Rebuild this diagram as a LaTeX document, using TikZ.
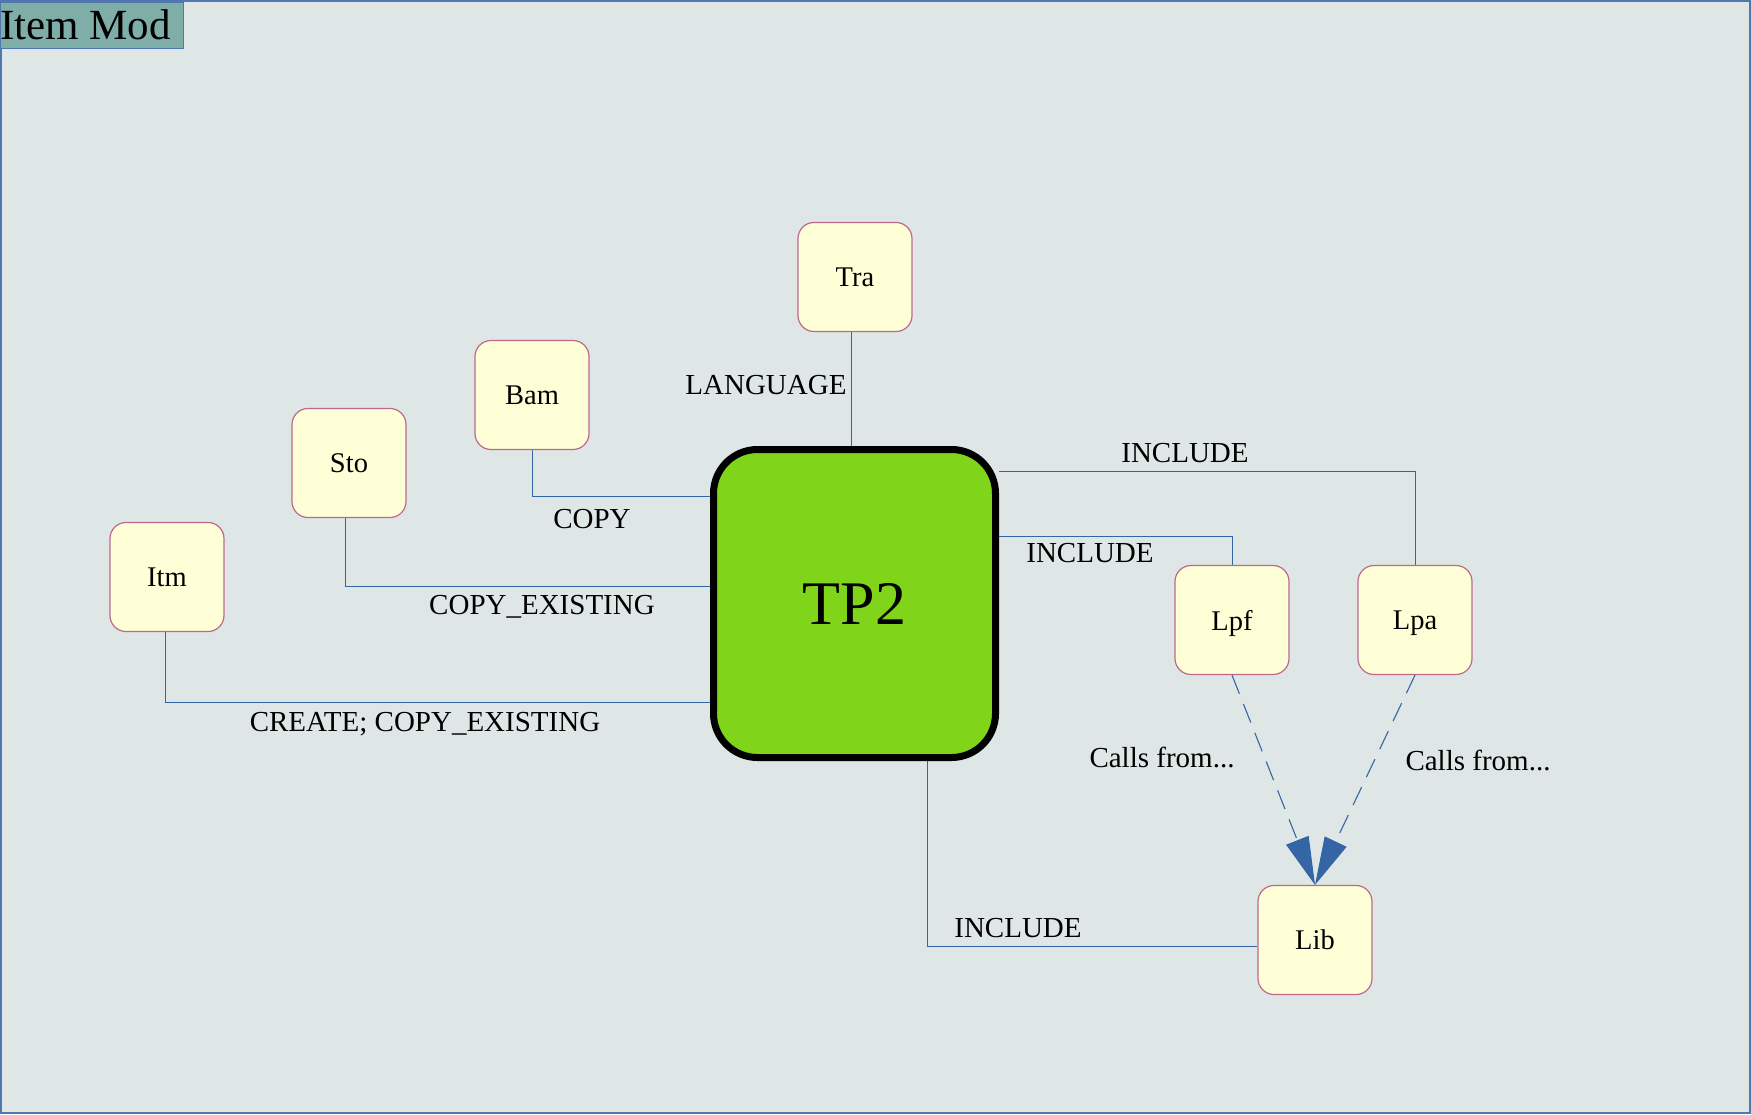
\documentclass[tikz,border=0pt]{standalone}
\usepackage{fontspec}
\setmainfont{Liberation Serif}
\usetikzlibrary{arrows.meta,backgrounds}
\definecolor{bgc}{RGB}{223,231,230}
\definecolor{titlec}{RGB}{127,173,168}
\definecolor{linec}{RGB}{52,101,164}
\definecolor{framec}{RGB}{80,120,175}
\definecolor{nodefill}{RGB}{255,255,215}
\definecolor{nodeborder}{RGB}{190,105,140}
\definecolor{tpgreen}{RGB}{128,212,26}
\tikzset{
  box/.style={draw=nodeborder,fill=nodefill,line width=1.2pt,rounded corners=16pt,
    minimum width=114pt,minimum height=109pt,inner sep=0pt,text depth=0pt,
    font=\fontsize{28.5}{32}\selectfont},
  conn/.style={draw=linec,line width=1pt},
  calls/.style={draw=linec,line width=1.1pt,dash pattern=on 20pt off 11pt,
    -{Triangle[length=48pt,width=24pt]}},
  lbl/.style={font=\fontsize{29}{32}\selectfont,inner sep=0pt,text depth=0pt}
}
\begin{document}
\begin{tikzpicture}[x=1pt,y=-1pt]
\useasboundingbox (0,0) rectangle (1751,1114);
% nodes
\node[draw=black,fill=tpgreen,line width=7pt,rounded corners=44pt,minimum width=282pt,
  minimum height=308pt,inner sep=0pt,font=\fontsize{62}{70}\selectfont] (tp2) at (854.5,603.5) {TP2};
\node[box] (tra) at (855,277) {Tra};
\node[box] (bam) at (532,395) {Bam};
\node[box] (sto) at (349,463) {Sto};
\node[box] (itm) at (167,577) {Itm};
\node[box] (lpf) at (1232,620) {Lpf};
\node[box] (lpa) at (1415,620) {Lpa};
\node[box] (lib) at (1315,940) {Lib};
\node[draw=framec,fill=titlec,line width=1pt,anchor=north west,minimum width=183pt,
  minimum height=46pt,inner sep=0pt] (title) at (0,2) {};
\node[anchor=west,inner sep=0pt,font=\fontsize{43}{46}\selectfont] (titletext) at (0,25) {Item Mod};
% labels
\node[lbl] (l1) at (766,385) {LANGUAGE};
\node[lbl] (l2) at (592,519) {COPY};
\node[lbl] (l3) at (542,605) {COPY\_EXISTING};
\node[lbl] (l4) at (425,722) {CREATE; COPY\_EXISTING};
\node[lbl] (l5) at (1185,453) {INCLUDE};
\node[lbl] (l6) at (1090,553) {INCLUDE};
\node[lbl] (l7) at (1018,928) {INCLUDE};
\node[lbl] (l8) at (1162,757) {Calls from...};
\node[lbl] (l9) at (1478,760) {Calls from...};
\begin{pgfonlayer}{background}
\fill[bgc,draw=framec,line width=1.2pt] (1,1) rectangle (1750,1113);
\draw[conn] (tra.south -| 851,0) -- (tp2.north -| 851,0);
\draw[conn] (bam.south) |- (tp2.west |- 0,496);
\draw[conn] (sto.south -| 345,0) |- (tp2.west |- 0,586);
\draw[conn] (itm.south -| 165,0) |- (tp2.west |- 0,702);
\draw[conn] (tp2.east |- 0,471) -| (lpa.north);
\draw[conn] (tp2.east |- 0,536) -| (lpf.north);
\draw[conn] (tp2.south -| 927,0) |- (lib.west |- 0,946);
\end{pgfonlayer}
\draw[calls] (lpf.south) -- (lib.north);
\draw[calls] (lpa.south) -- (lib.north);
\end{tikzpicture}
\end{document}
